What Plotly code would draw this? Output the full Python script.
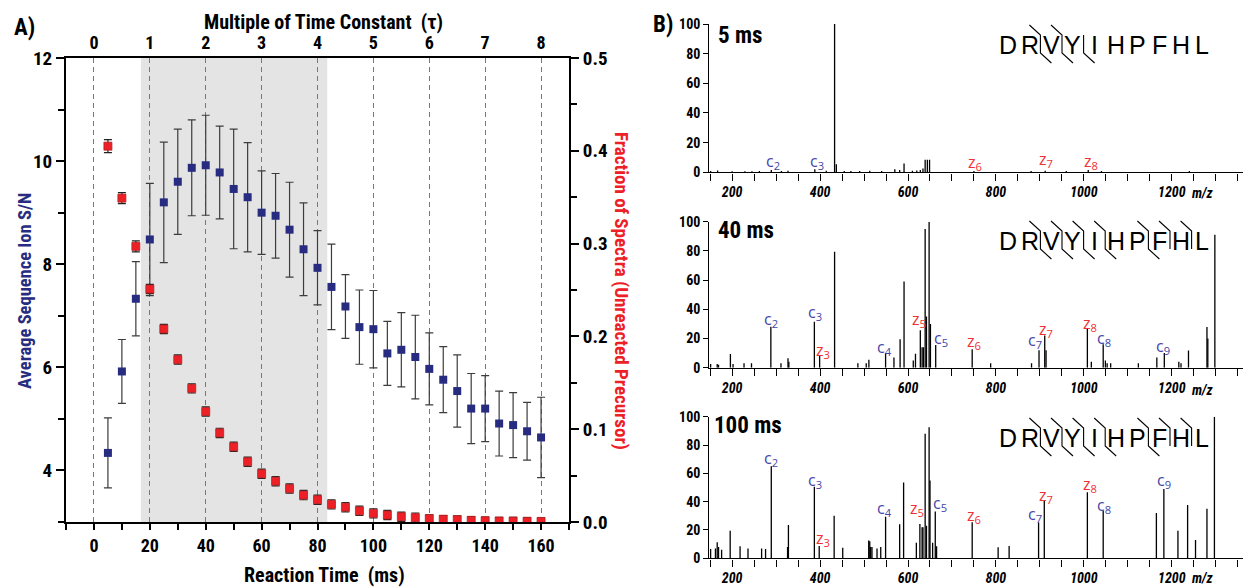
import plotly.graph_objects as go

W, H = 1243, 587

# ---------------- Panel A data ----------------
time_ms = [5, 10, 15, 20, 25, 30, 35, 40, 45, 50, 55, 60, 65, 70, 75, 80,
           85, 90, 95, 100, 105, 110, 115, 120, 125, 130, 135, 140, 145, 150, 155, 160]
ion_sn = [4.34, 5.92, 7.33, 8.48, 9.20, 9.60, 9.87, 9.92, 9.78, 9.46, 9.30, 9.00, 8.94, 8.67, 8.29, 7.93,
          7.56, 7.18, 6.78, 6.74, 6.27, 6.34, 6.20, 5.97, 5.76, 5.54, 5.20, 5.20, 4.91, 4.88, 4.76, 4.64]
ion_sn_err = [0.68, 0.62, 0.72, 1.09, 1.17, 1.02, 0.93, 0.97, 0.90, 1.16, 1.06, 0.81, 0.82, 0.92, 0.90, 0.72,
              0.83, 0.62, 0.72, 0.75, 0.62, 0.72, 0.81, 0.70, 0.64, 0.70, 0.68, 0.64, 0.63, 0.63, 0.56, 0.78]
frac_unreacted = [0.405, 0.349, 0.297, 0.251, 0.208, 0.175, 0.144, 0.119, 0.096, 0.081, 0.065, 0.052, 0.044,
                  0.036, 0.029, 0.024, 0.019, 0.016, 0.012, 0.0093, 0.0075, 0.0057, 0.0047, 0.0036, 0.003,
                  0.0025, 0.0018, 0.0014, 0.001, 0.001, 0.0008, 0.0006]
frac_err = [0.007, 0.006, 0.006, 0.005, 0.005, 0.005, 0.005, 0.005, 0.005, 0.005, 0.005, 0.005, 0.005,
            0.005, 0.005, 0.005, 0.005, 0.005, 0.005, 0.005, 0.005, 0.005, 0.005, 0.004, 0.004,
            0.004, 0.004, 0.004, 0.004, 0.004, 0.004, 0.004]
tau_ticks = [0, 1, 2, 3, 4, 5, 6, 7, 8]
shade_ms = [16.8, 83.5]

# ---------------- Panel B data ----------------
mz_5 = [151, 167, 200, 229, 245, 262, 289, 312, 327, 388, 414, 433, 437, 455, 470, 490, 513, 540,
        570, 581, 591, 610, 620, 628, 634, 639, 644, 649, 750, 880, 912, 960, 1010, 1040, 1240]
int_5 = [0.8, 1.2, 0.7, 0.7, 0.7, 0.8, 1.5, 0.8, 1.0, 2.0, 1.0, 100, 5.5, 0.8, 0.8, 0.8, 1.0, 0.8,
         2.0, 1.5, 6.0, 1.0, 1.2, 1.5, 2.5, 8.5, 8.5, 8.5, 0.8, 0.8, 1.0, 0.8, 1.5, 0.8, 0.8]

mz_40 = [151, 166, 169, 196, 202, 227, 244, 288, 311, 327, 329, 387, 399, 433, 486, 505, 511, 549,
         568, 582, 591, 612, 617, 628, 632, 635, 639, 642, 648, 651, 663, 746, 788, 881, 898, 911,
         914, 1008, 1017, 1044, 1049, 1053, 1061, 1124, 1166, 1183, 1216, 1221, 1238, 1280, 1282, 1298]
int_40 = [2.5, 2.5, 2, 9.4, 2.5, 3, 3, 28, 3, 6.4, 4, 31.5, 8, 79.5, 3, 3, 5.5, 10,
          7, 19.5, 59, 5, 9.5, 25.7, 14, 14, 95, 35, 100, 30, 15.6, 12.6, 3, 3, 12, 22,
          12, 26.7, 4, 16, 5, 3, 3, 3, 7, 10, 4, 3, 11.7, 27.8, 20, 91]

mz_100 = [151, 162, 166, 169, 176, 195.5, 218, 236, 267, 276, 289, 326, 328, 387, 398, 432, 451.5,
          510.6, 513, 515, 518, 529.5, 538, 549, 581, 590, 619, 627, 632, 634, 639, 642, 648, 650,
          656, 662, 665, 746, 805, 830, 897, 910, 1008, 1044, 1165, 1182, 1214, 1236, 1254, 1280, 1297]
int_100 = [6.6, 7, 11.3, 8, 6, 19.5, 8.5, 7, 7, 6.5, 65, 8, 23.5, 50.6, 8.7, 30, 7.5,
           12.5, 12, 8, 8, 7, 8, 29.4, 24, 53.6, 11, 24.2, 22, 22, 88, 23, 92.5, 55,
           11, 33, 8.5, 25.4, 7.8, 8.7, 25.2, 40.7, 46.6, 33.4, 32, 49, 19.5, 37.6, 13, 35, 100]

# fragment ion labels: ion type, index, label m/z, label height
lab5_ion = ["c", "c", "z", "z", "z"]
lab5_num = [2, 3, 6, 7, 8]
lab5_mz = [293, 392, 752, 914, 1017]
lab5_y = [7.5, 7.5, 6.5, 8.3, 7.5]

lab40_ion = ["c", "c", "z", "c", "z", "c", "z", "c", "z", "z", "c", "c"]
lab40_num = [2, 3, 3, 4, 5, 5, 6, 7, 7, 8, 8, 9]
lab40_mz = [289, 388, 407, 547, 624, 674, 750, 888, 913, 1014, 1045, 1181]
lab40_y = [33, 38, 11.7, 14, 33, 20, 18, 18.6, 26.4, 30.6, 20, 14.5]

lab100_ion = ["c", "c", "z", "c", "z", "c", "z", "c", "z", "z", "c", "c"]
lab100_num = [2, 3, 3, 4, 5, 5, 6, 7, 7, 8, 8, 9]
lab100_mz = [289, 388, 407, 547, 621, 672, 750, 889, 913, 1014, 1045, 1182]
lab100_y = [70.6, 55, 14, 35, 35, 39, 30, 31, 44.7, 52, 37, 54.6]

spectra_titles = ["5 ms", "40 ms", "100 ms"]
sequence = "DRVYIHPFHL"

# ---------------- helpers ----------------
def px(x):
    return x / W


def py(y):
    return 1 - y / H


COND = "Noto Sans Condensed, Liberation Sans Narrow, Roboto Condensed, Roboto, sans-serif"
NAVY = "rgb(40,44,128)"
RED = "rgb(236,32,38)"
LBLUE = "rgb(68,70,168)"
LRED = "rgb(240,48,52)"


def sticks(mz, inten):
    xs, ys = [], []
    for m, v in zip(mz, inten):
        xs += [m, m, None]
        ys += [0, v, None]
    return xs, ys


fig = go.Figure()

# Panel A traces
fig.add_trace(go.Scatter(
    x=time_ms, y=ion_sn, mode="markers", xaxis="x", yaxis="y", showlegend=False,
    marker=dict(symbol="square", size=8, color=NAVY),
    error_y=dict(type="data", array=ion_sn_err, color="#3c3c3c", thickness=1.2, width=4)))
fig.add_trace(go.Scatter(
    x=tau_ticks, y=[3] * len(tau_ticks), mode="markers", xaxis="x2", yaxis="y",
    marker=dict(opacity=0), showlegend=False, hoverinfo="skip"))
fig.add_trace(go.Scatter(
    x=time_ms, y=frac_unreacted, mode="markers", xaxis="x", yaxis="y2", showlegend=False,
    marker=dict(symbol="square", size=8, color=RED, line=dict(color="rgb(175,35,35)", width=0.8)),
    error_y=dict(type="data", array=frac_err, color="#222222", thickness=1.2, width=4)))

# Panel B traces
spectra = [(mz_5, int_5), (mz_40, int_40), (mz_100, int_100)]
for i, (mz, inten) in enumerate(spectra):
    xs, ys = sticks(mz, inten)
    fig.add_trace(go.Scatter(x=xs, y=ys, mode="lines", xaxis=f"x{3 + i}", yaxis=f"y{3 + i}",
                             line=dict(color="black", width=1.3), showlegend=False,
                             hoverinfo="skip"))

tickA = dict(family=COND, size=18, color="black", weight="bold")
layout = dict(
    width=W, height=H, margin=dict(l=0, r=0, t=0, b=0, autoexpand=False),
    paper_bgcolor="white", plot_bgcolor="white", showlegend=False,
    font=dict(color="black"),
    xaxis=dict(domain=[px(66), px(569)], range=[-10, 170], anchor="y", automargin=False,
               tickmode="linear", tick0=0, dtick=20, ticks="outside", ticklen=6, tickwidth=1.5,
               tickcolor="black",
               minor=dict(dtick=10, tick0=0, ticks="outside", ticklen=6, tickwidth=1.5,
                          tickcolor="black", showgrid=False),
               showline=True, linewidth=2, linecolor="black",
               showgrid=True, gridcolor="rgb(120,120,120)", griddash="5px,4px", gridwidth=1,
               zeroline=False, tickfont=tickA),
    xaxis2=dict(overlaying="x", side="top", anchor="y", range=[-0.5, 8.5], automargin=False,
                tickmode="linear", tick0=0, dtick=1, ticks="", showline=True, linewidth=2,
                linecolor="black", showgrid=False, zeroline=False, tickfont=tickA),
    yaxis=dict(domain=[py(522), py(58)], range=[3, 12], anchor="x", automargin=False,
               tickmode="linear", tick0=0, dtick=2, ticks="outside", ticklen=8, tickwidth=1.5,
               tickcolor="black",
               minor=dict(dtick=1, tick0=0, ticks="outside", ticklen=6, tickwidth=1.5,
                          tickcolor="black", showgrid=False),
               showline=True, linewidth=2, linecolor="black", showgrid=False, zeroline=False,
               tickfont=dict(family=COND, size=19, color="black", weight="bold")),
    yaxis2=dict(overlaying="y", side="right", anchor="x", range=[0, 0.5], automargin=False,
                tickmode="linear", tick0=0, dtick=0.1, tickformat=".1f", ticks="outside",
                ticklen=8, tickwidth=1.5, tickcolor="black",
                minor=dict(dtick=0.05, tick0=0, ticks="outside", ticklen=6, tickwidth=1.5,
                           tickcolor="black", showgrid=False),
                showline=True, linewidth=2, linecolor="black", showgrid=False, zeroline=False,
                tickfont=dict(family=COND, size=19, color="black", weight="bold")),
)

spec_rows = [(24, 172.3), (221.7, 367.7), (416.7, 558.3)]
for i, (ytop, ybot) in enumerate(spec_rows):
    n = 3 + i
    layout[f"xaxis{n}"] = dict(
        domain=[px(709.3), 1.0], range=[148, 1362], anchor=f"y{n}", automargin=False,
        tickmode="linear", tick0=0, dtick=200, ticks="outside", ticklen=7, tickwidth=1.3,
        tickcolor="black",
        minor=dict(dtick=50, tick0=0, ticks="outside", ticklen=7, tickwidth=1.3,
                   tickcolor="black", showgrid=False),
        showline=True, linewidth=1.4, linecolor="black", showgrid=False, zeroline=False,
        tickfont=dict(family=COND, size=14, color="black", weight="bold", style="italic"))
    layout[f"yaxis{n}"] = dict(
        domain=[py(ybot), py(ytop)], range=[0, 100], anchor=f"x{n}", automargin=False,
        tickmode="linear", tick0=0, dtick=20, ticks="outside", ticklen=5, tickwidth=1.3,
        tickcolor="black", showline=True, linewidth=1.4, linecolor="black",
        showgrid=False, zeroline=False,
        tickfont=dict(family=COND, size=14, color="black", weight="bold"))

fig.update_layout(**layout)

# shaded region (panel A)
fig.add_shape(type="rect", xref="x", yref="y domain", x0=shade_ms[0], x1=shade_ms[1], y0=0, y1=1,
              fillcolor="rgb(228,228,228)", line=dict(width=0), layer="below")

ann = []
# panel labels & titles
ann.append(dict(x=px(24), y=py(27), text="A)", font=dict(family=COND, size=23, weight="bold", color="black")))
ann.append(dict(x=px(663), y=py(24), text="B)", font=dict(family=COND, size=23, weight="bold", color="black")))
ann.append(dict(x=px(323), y=py(22), text="Multiple of Time Constant  (τ)",
                font=dict(family=COND, size=20, weight="bold", color="black")))
ann.append(dict(x=px(324), y=py(575), text="Reaction Time  (ms)",
                font=dict(family=COND, size=20, weight="bold", color="black")))
ann.append(dict(x=px(25), y=py(291), text="Average Sequence Ion S/N", textangle=-90,
                font=dict(family=COND, size=18.5, weight="bold", color=NAVY)))
ann.append(dict(x=px(622), y=py(291), text="Fraction of Spectra (Unreacted Precursor)", textangle=90,
                font=dict(family=COND, size=19, weight="bold", color=RED)))
for a in ann:
    a.update(xref="paper", yref="paper", showarrow=False, xanchor="center", yanchor="middle")

# spectra titles and m/z unit
title_pos = [(716, 35), (716, 230), (712, 425)]
for i, ((tx, ty), t) in enumerate(zip(title_pos, spectra_titles)):
    ann.append(dict(x=px(tx), y=py(ty), text=t, xref="paper", yref="paper", showarrow=False,
                    xanchor="left", yanchor="middle",
                    font=dict(family=COND, size=23, weight="bold", color="black")))
unit_y = [193, 390, 578]
for uy in unit_y:
    ann.append(dict(x=px(1189), y=py(uy), text="m/z", xref="paper", yref="paper", showarrow=False,
                    xanchor="left", yanchor="middle",
                    font=dict(family=COND, size=14, weight="bold", style="italic", color="black")))

# fragment labels
labels = [(lab5_ion, lab5_num, lab5_mz, lab5_y),
          (lab40_ion, lab40_num, lab40_mz, lab40_y),
          (lab100_ion, lab100_num, lab100_mz, lab100_y)]
for i, (ions, nums, mzs, ys) in enumerate(labels):
    n = 3 + i
    for ion, num, m, yv in zip(ions, nums, mzs, ys):
        ann.append(dict(x=m, y=yv, xref=f"x{n}", yref=f"y{n}", showarrow=False,
                        text=f"{ion}<sub>{num}</sub>", xanchor="center", yanchor="middle",
                        font=dict(family="Open Sans, Liberation Sans, sans-serif", size=16,
                                  color=LBLUE if ion == "c" else LRED)))

# peptide sequence with cleavage markers
seq_x0, seq_dx = 1008, 21.6
seq_yc = [44, 240, 437]
shapes = []
for i, (ions, nums, _, _) in enumerate(labels):
    yc = seq_yc[i]
    xs = [seq_x0 + k * seq_dx for k in range(len(sequence))]
    for k, ch in enumerate(sequence):
        ann.append(dict(x=px(xs[k]), y=py(yc + 1), text=ch, xref="paper", yref="paper",
                        showarrow=False, xanchor="center", yanchor="middle",
                        font=dict(family="Liberation Sans, Arial, sans-serif", size=25,
                                  color="black")))
    tops = {num for ion, num in zip(ions, nums) if ion == "c"}
    bots = {len(sequence) - num for ion, num in zip(ions, nums) if ion == "z"}
    for site in sorted(tops | bots):
        xm = (xs[site - 1] + xs[site]) / 2
        path = ""
        if site in tops:
            path += f"M {px(xm - 11)},{py(yc - 19)} L {px(xm)},{py(yc - 9)} "
        else:
            path += f"M {px(xm)},{py(yc - 9)} "
        path += f"L {px(xm)},{py(yc + 9)} "
        if site in bots:
            path += f"L {px(xm + 11)},{py(yc + 19)}"
        shapes.append(dict(type="path", xref="paper", yref="paper", path=path,
                           line=dict(color="black", width=1.1)))

for s in shapes:
    fig.add_shape(**s)
fig.update_layout(annotations=ann)

fig.write_html("out.html")
